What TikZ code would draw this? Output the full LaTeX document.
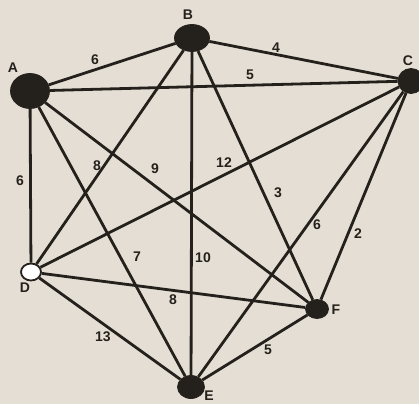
\documentclass[tikz,border=0pt]{standalone}
\usepackage{fontspec}
\setsansfont{Liberation Sans}
\usetikzlibrary{shapes.geometric}
\definecolor{paper}{RGB}{229,222,213}
\definecolor{ink}{RGB}{36,33,28}
\tikzset{
  gvertex/.style={ellipse, draw=ink, fill=ink, line width=0.8pt, inner sep=0pt},
  gopen/.style  ={ellipse, draw=ink, fill=white, line width=1.8pt, inner sep=0pt,
                  minimum width=20pt, minimum height=17pt},
  gline/.style  ={line width=2.8pt, ink},
  wlabel/.style ={font=\sffamily\bfseries\fontsize{14}{14}\selectfont, text=ink, inner sep=0pt},
  vname/.style  ={wlabel},
}

\begin{document}
\begin{tikzpicture}[x=1pt, y=-1pt]
\fill[paper] (0,0) rectangle (419,404);
\useasboundingbox (0,0) rectangle (419,404);
% vertices
\node[gvertex, minimum width=39pt, minimum height=35pt] (A) at (30,91) {};
\node[gvertex, minimum width=35pt, minimum height=27pt] (B) at (192,38) {};
\node[gvertex, minimum width=26pt, minimum height=25pt] (C) at (411,81) {};
\node[gopen] (D) at (31,272) {};
\node[gvertex, minimum width=27pt, minimum height=23pt] (E) at (191,387) {};
\node[gvertex, minimum width=23pt, minimum height=19pt] (F) at (317,309) {};
% edges
\foreach \u/\v in {A/B, A/C, B/C, A/D, A/E, A/F, B/D, B/E, B/F,
                   C/D, C/E, C/F, D/E, D/F, E/F}
  \draw[gline] (\u) -- (\v);
% weights
\node[wlabel] (wAB) at (95,60)  {6};
\node[wlabel] (wBC) at (276,48) {4};
\node[wlabel] (wAC) at (250,75) {5};
\node[wlabel] (wAD) at (20,181) {6};
\node[wlabel] (wBD) at (97,166) {8};
\node[wlabel] (wAF) at (155,169) {9};
\node[wlabel] (wCD) at (224,163) {12};
\node[wlabel] (wBF) at (278,193) {3};
\node[wlabel] (wCE) at (317,225) {6};
\node[wlabel] (wCF) at (358,234) {2};
\node[wlabel] (wAE) at (137,257) {7};
\node[wlabel] (wBE) at (203,258) {10};
\node[wlabel] (wDF) at (173,300) {8};
\node[wlabel] (wDE) at (103,337) {13};
\node[wlabel] (wEF) at (268,350) {5};
% names
\node[vname] (nA) at (13,68)  {A};
\node[vname] (nB) at (188,15) {B};
\node[vname] (nC) at (408,61) {C};
\node[vname] (nD) at (25,288) {D};
\node[vname] (nE) at (209,396) {E};
\node[vname] (nF) at (336,310) {F};
\end{tikzpicture}
\end{document}
